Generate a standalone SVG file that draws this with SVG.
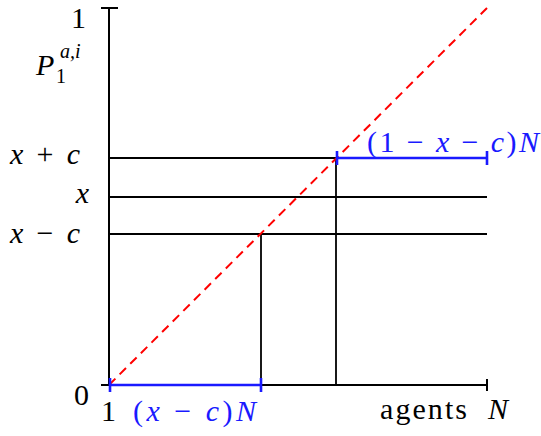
<svg xmlns="http://www.w3.org/2000/svg" width="541" height="436" viewBox="0 0 541 436">
<style>
.ax{stroke:#000;stroke-width:2;fill:none}
.ln{stroke:#000;stroke-width:1.8;fill:none}
.bl{stroke:#1a1aff;stroke-width:2.6;fill:none}
.t{font-family:"Liberation Serif",serif;font-size:30px;fill:#000}
.s{font-family:"Liberation Serif",serif;font-size:20px;fill:#000}
.i{font-style:italic}
.b{fill:#1a1aff}
</style>
<rect width="541" height="436" fill="#fff"/>
<g id="connectors">
<line class="ln" x1="109" y1="158" x2="487" y2="158"/>
<line class="ln" x1="109" y1="197" x2="487" y2="197"/>
<line class="ln" x1="109" y1="234" x2="487" y2="234"/>
<line class="ln" x1="261" y1="234" x2="261" y2="385"/>
<line class="ln" x1="336" y1="158" x2="336" y2="385"/>
<line x1="109" y1="385" x2="487" y2="8" stroke="#ff0000" stroke-width="2" stroke-dasharray="9,6"/>
</g>
<g id="axes">
<line class="ax" x1="109" y1="8" x2="109" y2="385"/>
<line class="ax" x1="101" y1="8" x2="118" y2="8"/>
<line class="ax" x1="101" y1="385" x2="487" y2="385"/>
<line class="ax" x1="487" y1="379" x2="487" y2="391"/>
</g>
<g id="blue-segments">
<line class="bl" x1="109" y1="385" x2="261" y2="385"/>
<line class="bl" x1="110" y1="378" x2="110" y2="392"/>
<line class="bl" x1="261" y1="378" x2="261" y2="392"/>
<line class="bl" x1="336" y1="158" x2="487" y2="158"/>
<line class="bl" x1="337" y1="151" x2="337" y2="165"/>
<line class="bl" x1="487" y1="151" x2="487" y2="165"/>
</g>
<g id="labels">
<text class="t" x="86" y="28" text-anchor="end">1</text>
<text class="t i" x="36" y="75">P</text>
<text class="s" x="56" y="83">1</text>
<text class="s i" x="60" y="58">a,i</text>
<text class="t i" x="10" y="164" textLength="70" lengthAdjust="spacing">x <tspan font-style="normal">+</tspan> c</text>
<text class="t i" x="89" y="203" text-anchor="end">x</text>
<text class="t i" x="10" y="243" textLength="70" lengthAdjust="spacing">x <tspan font-style="normal">−</tspan> c</text>
<text class="t" x="89" y="405" text-anchor="end">0</text>
<text class="t" x="101" y="421">1</text>
<text class="t i b" x="133" y="421" textLength="123" lengthAdjust="spacing"><tspan font-style="normal">(</tspan>x <tspan font-style="normal">−</tspan> c<tspan font-style="normal">)</tspan>N</text>
<text class="t" x="380" y="419" textLength="87" lengthAdjust="spacing">agents</text>
<text class="t i" x="488" y="419">N</text>
<text class="t i b" x="367" y="152" textLength="172" lengthAdjust="spacing"><tspan font-style="normal">(1 −</tspan> x <tspan font-style="normal">−</tspan> c<tspan font-style="normal">)</tspan>N</text>
</g>
</svg>
